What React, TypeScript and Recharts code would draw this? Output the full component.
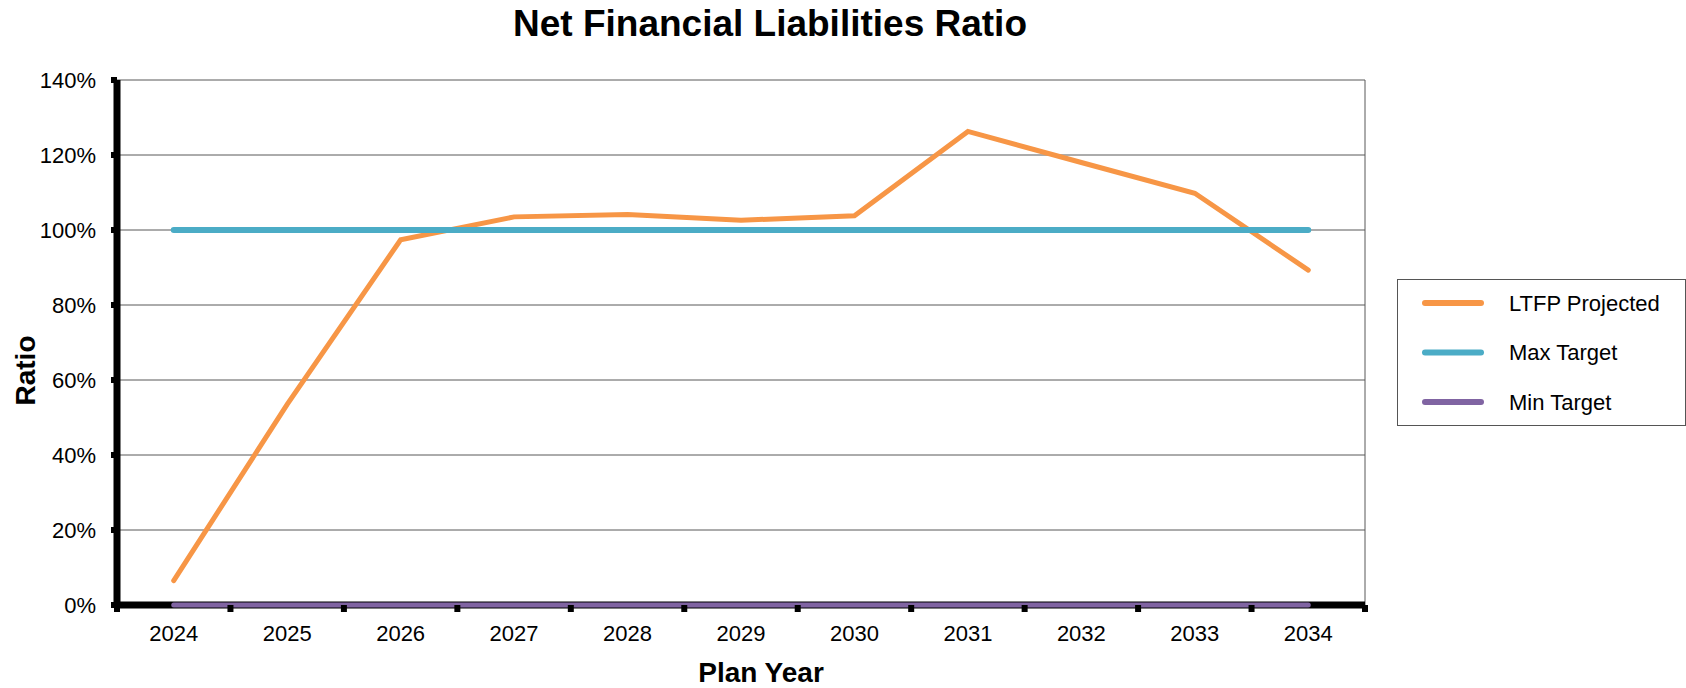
import { CartesianGrid, Legend, Line, LineChart, ReferenceLine, XAxis, YAxis } from "recharts"

const years = ["2024", "2025", "2026", "2027", "2028", "2029", "2030", "2031", "2032", "2033", "2034"]
const ltfpProjected = [6.5, 53.5, 97.4, 103.5, 104.1, 102.6, 103.8, 126.3, 118.0, 109.8, 89.3]
const maxTarget = [100, 100, 100, 100, 100, 100, 100, 100, 100, 100, 100]
const minTarget = [0, 0, 0, 0, 0, 0, 0, 0, 0, 0, 0]
const ratioTicks = [0, 20, 40, 60, 80, 100, 120, 140]

const ORANGE = "#F79646"
const BLUE = "#4BACC6"
const PURPLE = "#8064A2"
const FONT = "'Liberation Sans', Arial, sans-serif"

const rows = years.map((year, i) => ({
  idx: i,
  year,
  projected: ltfpProjected[i],
  max: maxTarget[i],
  min: minTarget[i],
}))

// year labels sit on the integer positions, the small marks on the half steps between them
const xTicks = years.flatMap((_, i) => (i === 0 ? [i - 0.5, i, i + 0.5] : [i, i + 0.5]))

function YearTick({ x, y, payload }: any) {
  const v = payload.value as number
  if (!Number.isInteger(v)) {
    return <line x1={x} x2={x} y1={y} y2={y + 7} stroke="#000" strokeWidth={6} />
  }
  return (
    <text x={x} y={y + 36} textAnchor="middle" fontSize={22} fill="#000">
      {years[v]}
    </text>
  )
}

function LegendBox({ payload }: any) {
  const items = payload ?? []
  return (
    <svg width={289} height={147} style={{ display: "block" }}>
      <rect x={0.5} y={0.5} width={288} height={146} fill="#fff" stroke="#555" />
      {items.map((p: any, i: number) => {
        const cy = 24 + i * 49.5
        return (
          <g key={p.value}>
            <line x1={28} x2={84} y1={cy} y2={cy} stroke={p.color} strokeWidth={6} strokeLinecap="round" />
            <text x={112} y={cy} dominantBaseline="central" fontSize={22} fill="#000">
              {p.value}
            </text>
          </g>
        )
      })}
    </svg>
  )
}

export default function App() {
  return (
    <div style={{ position: "absolute", left: 0, top: 0, width: 1686, height: 688, fontFamily: FONT, background: "#fff" }}>
      <div
        style={{
          position: "absolute",
          left: 0,
          top: 5,
          width: 1540,
          textAlign: "center",
          fontSize: 37,
          lineHeight: "37px",
          fontWeight: "bold",
          color: "#000",
        }}
      >
        Net Financial Liabilities Ratio
      </div>
      <LineChart width={1686} height={688} data={rows} margin={{ top: 80, right: 321, bottom: 0, left: 0 }}>
        <CartesianGrid vertical={false} stroke="#595959" />
        <XAxis
          dataKey="idx"
          type="number"
          domain={[-0.5, 10.5]}
          ticks={xTicks}
          interval={0}
          height={83}
          tickSize={0}
          tickMargin={0}
          tickLine={false}
          tick={<YearTick />}
          axisLine={{ stroke: "#000", strokeWidth: 7 }}
          label={{
            value: "Plan Year",
            position: "insideBottom",
            offset: 6,
            dx: 20,
            style: { fontSize: 28, fontWeight: "bold", fill: "#000" },
          }}
        />
        <YAxis
          domain={[0, 140]}
          ticks={ratioTicks}
          interval={0}
          width={117}
          tickSize={6}
          tickMargin={15}
          tickFormatter={(v: number) => `${v}%`}
          tick={{ fontSize: 22, fill: "#000" }}
          tickLine={{ stroke: "#000", strokeWidth: 6 }}
          axisLine={{ stroke: "#000", strokeWidth: 7 }}
          label={{
            value: "Ratio",
            angle: -90,
            position: "insideLeft",
            offset: 25.5,
            dy: 28,
            style: { textAnchor: "middle", fontSize: 28, fontWeight: "bold", fill: "#000" },
          }}
        />
        <ReferenceLine x={10.5} stroke="#595959" strokeWidth={1} />
        <Legend
          layout="vertical"
          align="center"
          verticalAlign="middle"
          content={<LegendBox />}
          wrapperStyle={{ position: "absolute", left: 1397, top: 279, width: 289, height: 147 }}
        />
        <Line
          name="LTFP Projected"
          dataKey="projected"
          stroke={ORANGE}
          strokeWidth={5}
          strokeLinecap="round"
          dot={false}
          isAnimationActive={false}
          zIndex={600}
        />
        <Line
          name="Max Target"
          dataKey="max"
          stroke={BLUE}
          strokeWidth={6}
          strokeLinecap="round"
          dot={false}
          isAnimationActive={false}
          zIndex={600}
        />
        <Line
          name="Min Target"
          dataKey="min"
          stroke={PURPLE}
          strokeWidth={5}
          strokeLinecap="round"
          dot={false}
          isAnimationActive={false}
          zIndex={600}
        />
      </LineChart>
    </div>
  )
}
